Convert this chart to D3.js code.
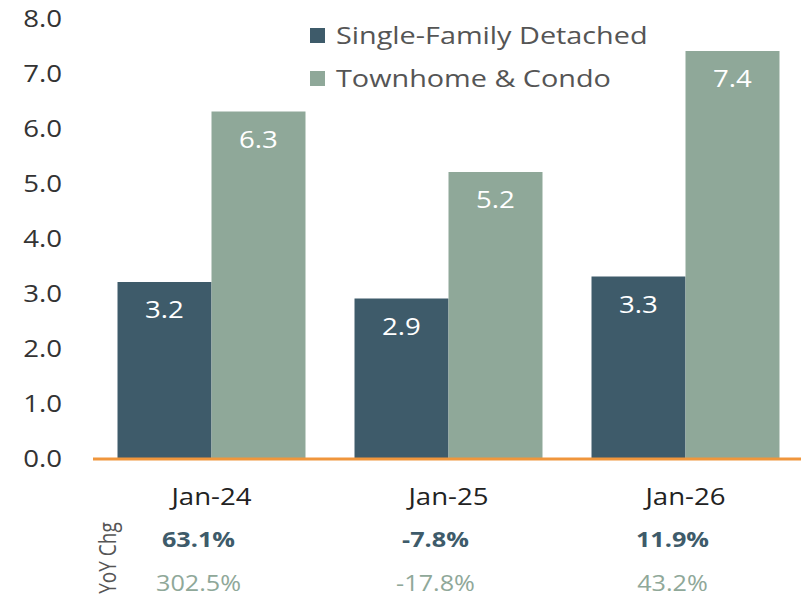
<!DOCTYPE html>
<html>
<head>
<meta charset="utf-8">
<script src="https://cdn.jsdelivr.net/npm/d3@7"></script>
<style>
  body { margin: 0; background: #fff; }
  svg text { font-family: "Open Sans", "Noto Sans", sans-serif; }
</style>
</head>
<body>
<div id="chart"></div>
<script>
// data
var categories = ["Jan-24", "Jan-25", "Jan-26"];
var seriesNames = ["Single-Family Detached", "Townhome & Condo"];
var singleFamily = [3.2, 2.9, 3.3];
var townhome = [6.3, 5.2, 7.4];
var yoySingle = ["63.1%", "-7.8%", "11.9%"];
var yoyTown = ["302.5%", "-17.8%", "43.2%"];
var yTicks = [0, 1, 2, 3, 4, 5, 6, 7, 8];

var colors = ["#3e5b6a", "#8fa899"];
var width = 801, height = 599;
var sx = 1.2; // the source text is a bit wider than the font

var svg = d3.select("#chart").append("svg")
  .attr("width", width).attr("height", height);

var x = d3.scaleBand().domain(categories).range([93, 804])
  .paddingInner(0.2068).paddingOuter(0.1034);
var xs = d3.scaleBand().domain(seriesNames).range([0, x.bandwidth()]);
var y = d3.scaleLinear().domain([0, 8]).range([458, 18]);

function place(px, py) {
  return "translate(" + px + "," + py + ") scale(" + sx + ",1)";
}

// y axis labels
svg.selectAll(".ylab").data(yTicks).enter().append("text")
  .attr("transform", function(d) { return place(62, y(d) + 8.5); })
  .attr("text-anchor", "end")
  .attr("fill", "#333")
  .style("font-size", "23px")
  .text(d3.format(".1f"));

var rows = categories.map(function(c, i) {
  return [
    {cat: c, name: seriesNames[0], value: singleFamily[i]},
    {cat: c, name: seriesNames[1], value: townhome[i]}
  ];
});

var groups = svg.selectAll(".grp").data(rows).enter().append("g")
  .attr("class", "grp")
  .attr("transform", function(d) { return "translate(" + x(d[0].cat) + ",0)"; });

groups.selectAll("rect").data(function(d) { return d; }).enter().append("rect")
  .attr("x", function(d) { return xs(d.name); })
  .attr("y", function(d) { return y(d.value); })
  .attr("width", xs.bandwidth())
  .attr("height", function(d) { return y(0) - y(d.value); })
  .attr("fill", function(d, i) { return colors[i]; });

groups.selectAll(".val").data(function(d) { return d; }).enter().append("text")
  .attr("class", "val")
  .attr("transform", function(d) { return place(xs(d.name) + xs.bandwidth() / 2, y(d.value) + 36); })
  .attr("text-anchor", "middle")
  .attr("fill", "#fff")
  .style("font-size", "23px")
  .text(function(d) { return d.value.toFixed(1); });

// orange baseline
svg.append("line")
  .attr("x1", 93).attr("x2", 801)
  .attr("y1", y(0) + 1).attr("y2", y(0) + 1)
  .attr("stroke", "#f0963c").attr("stroke-width", 3);

// category labels
svg.selectAll(".cat").data(categories).enter().append("text")
  .attr("transform", function(d) { return place(x(d) + x.bandwidth() / 2, 505); })
  .attr("text-anchor", "middle")
  .attr("fill", "#222")
  .style("font-size", "23px")
  .text(function(d) { return d; });

// YoY change rows
svg.selectAll(".yoy1").data(categories).enter().append("text")
  .attr("transform", function(d) { return place(x(d) + x.bandwidth() / 2 - 13, 547); })
  .attr("text-anchor", "middle")
  .attr("fill", "#3e5b6a")
  .style("font-size", "21px").style("font-weight", "bold")
  .text(function(d, i) { return yoySingle[i]; });

svg.selectAll(".yoy2").data(categories).enter().append("text")
  .attr("transform", function(d) { return place(x(d) + x.bandwidth() / 2 - 13, 591); })
  .attr("text-anchor", "middle")
  .attr("fill", "#8fa899")
  .style("font-size", "21px")
  .text(function(d, i) { return yoyTown[i]; });

svg.append("text")
  .attr("transform", "translate(116,558) rotate(-90) scale(1," + sx + ")")
  .attr("text-anchor", "middle")
  .attr("fill", "#555")
  .style("font-size", "19px")
  .text("YoY Chg");

// legend
var legend = svg.selectAll(".leg").data(seriesNames).enter().append("g")
  .attr("transform", function(d, i) { return "translate(310," + (28 + i * 43) + ")"; });
legend.append("rect")
  .attr("width", 15).attr("height", 15)
  .attr("fill", function(d, i) { return colors[i]; });
legend.append("text")
  .attr("transform", place(26, 16))
  .attr("fill", "#555")
  .style("font-size", "24px")
  .text(function(d) { return d; });
</script>
</body>
</html>
